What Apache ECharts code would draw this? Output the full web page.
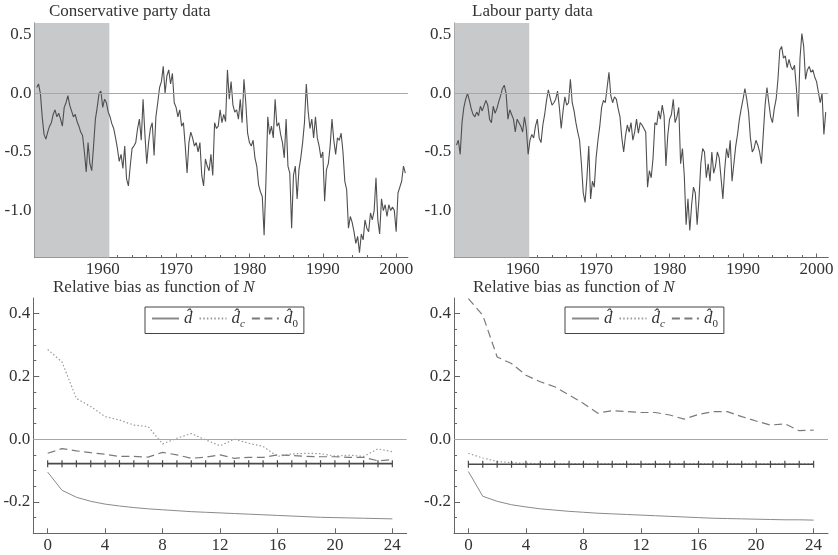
<!DOCTYPE html>
<html><head><meta charset="utf-8">
<script src="https://cdn.jsdelivr.net/npm/echarts@6/dist/echarts.min.js"></script>
<style>html,body{margin:0;padding:0;background:#fff}#c{width:838px;height:555px}</style>
</head><body><div id="c"></div>
<script>
// ---- time index (quarterly readings) ----
const startYear = 1951;
const stepYear = 0.25;

// Conservative party data (quarterly from 1951.00)
const conValues = [
 0.05, 0.08, 0.0, -0.2,
 -0.35, -0.39, -0.33, -0.28,
 -0.25, -0.18, -0.14, -0.2,
 -0.17, -0.22, -0.28, -0.12,
 -0.08, -0.02, -0.1, -0.15,
 -0.2, -0.18, -0.24, -0.28,
 -0.33, -0.36, -0.5, -0.67,
 -0.42, -0.6, -0.66, -0.45,
 -0.22, -0.12, 0.0, 0.02,
 -0.12, -0.05, -0.08, -0.16,
 -0.2, -0.26, -0.3, -0.38,
 -0.47, -0.58, -0.52, -0.64,
 -0.45, -0.73, -0.79, -0.62,
 -0.47, -0.45, -0.42, -0.3,
 -0.22, -0.4, -0.05, -0.35,
 -0.6, -0.42, -0.3, -0.25,
 -0.53, -0.2, -0.08, 0.05,
 0.1, 0.23, 0.0, 0.15,
 0.2, 0.08, 0.17, -0.08,
 -0.12, -0.2, -0.14, -0.28,
 -0.25, -0.45, -0.68, -0.42,
 -0.33, -0.38, -0.45, -0.42,
 -0.5, -0.42, -0.7, -0.79,
 -0.56, -0.62, -0.66, -0.52,
 -0.7, -0.25, -0.3, -0.28,
 -0.14, -0.25, -0.18, -0.24,
 0.2, -0.05, 0.1, -0.1,
 -0.16, -0.14, -0.22, -0.05,
 -0.25, 0.12, -0.08, -0.34,
 -0.42, -0.45, -0.4, -0.55,
 -0.62, -0.78, -0.84, -0.88,
 -1.21, -0.75, -0.2, -0.35,
 -0.28, -0.38, -0.05, -0.28,
 -0.25, -0.35, -0.42, -0.55,
 -0.22, -0.62, -0.68, -1.15,
 -0.7, -0.62, -0.9, -0.65,
 -0.55, -0.42, -0.25, 0.08,
 -0.15, -0.3, -0.22, -0.38,
 -0.2, -0.38, -0.45, -0.55,
 -0.5, -0.92, -0.65, -0.6,
 -0.45, -0.22, -0.4, -0.52,
 -0.38, -0.4, -0.34, -0.5,
 -0.75, -0.82, -1.15, -1.05,
 -1.1, -1.18, -1.28, -1.22,
 -1.36, -1.2, -1.25, -1.08,
 -1.15, -1.18, -1.02, -1.08,
 -1.0, -0.72, -1.08, -1.2,
 -0.9, -1.0, -0.95, -1.05,
 -0.95, -1.0, -0.97, -1.0,
 -1.18, -0.85, -0.8, -0.75,
 -0.62, -0.68
];

// Labour party data (quarterly from 1951.00)
const labValues = [
 -0.44, -0.4, -0.52, -0.25,
 -0.12, -0.05, 0.0, -0.06,
 -0.13, -0.18, -0.2, -0.16,
 -0.19, -0.11, -0.15, -0.14,
 -0.06, -0.1, -0.22, -0.25,
 -0.11, -0.17, -0.13, -0.07,
 -0.02, 0.04, 0.07, 0.0,
 -0.22, -0.14, -0.18, -0.22,
 -0.33, -0.22, -0.25, -0.28,
 -0.33, -0.2, -0.3, -0.52,
 -0.4, -0.35, -0.38, -0.28,
 -0.22, -0.38, -0.42, -0.27,
 -0.18, -0.06, 0.03, -0.04,
 -0.1, -0.08, -0.05, 0.02,
 -0.12, -0.3, -0.15, -0.03,
 -0.1, -0.08, 0.12, -0.08,
 -0.15, -0.25, -0.33, -0.4,
 -0.6, -0.85, -0.93, -0.72,
 -0.45, -0.9, -0.75, -0.8,
 -0.55, -0.4, -0.28, -0.12,
 -0.06, -0.08, 0.05, 0.18,
 -0.02, -0.08, -0.03, -0.05,
 -0.13, -0.2, -0.38, -0.5,
 -0.36, -0.27, -0.33, -0.25,
 -0.4, -0.33, -0.22, -0.34,
 -0.25, -0.27, -0.3, -0.33,
 -0.8, -0.66, -0.72, -0.55,
 -0.25, -0.27, -0.15, -0.22,
 -0.1, -0.19, -0.62, -0.36,
 -0.22, -0.18, -0.05, -0.25,
 -0.2, -0.12, -0.6, -0.47,
 -0.7, -1.12, -0.9, -1.17,
 -0.95, -0.8, -0.85, -1.12,
 -0.9, -0.6, -0.47, -0.5,
 -0.72, -0.6, -0.75, -0.5,
 -0.68, -0.62, -0.5, -0.55,
 -0.72, -0.9, -0.65, -0.47,
 -0.55, -0.4, -0.75, -0.6,
 -0.45, -0.35, -0.22, -0.13,
 -0.05, 0.04, -0.05, -0.16,
 -0.38, -0.5, -0.47, -0.4,
 -0.44, -0.5, -0.6, -0.35,
 -0.1, 0.05, -0.08, -0.2,
 -0.25, -0.13, -0.05, 0.12,
 0.37, 0.4, 0.3, 0.32,
 0.22, 0.29, 0.23, 0.2,
 0.24, 0.05, -0.2, 0.3,
 0.51, 0.4, 0.12, 0.2,
 0.23, 0.18, 0.2, 0.14,
 0.1, 0.1, -0.08, 0.0,
 -0.35, -0.16
];

// tick positions / labels
const yearTicksMinor = [1952,1954,1956,1958,1962,1964,1966,1968,1972,1974,1976,1978,1982,1984,1986,1988,1992,1994,1996,1998];
const yearTicksMajor = [1960,1970,1980,1990,2000];
const levelTicksMinor = [-1.3,-1.2,-1.1,-0.9,-0.8,-0.7,-0.6,-0.4,-0.3,-0.2,-0.1,0.1,0.2,0.3,0.4];
const levelTicksMajor = [-1.0,-0.5,0.0,0.5];
const nTicksMajor = [0,4,8,12,16,20,24];
const biasTicksMinor = [-0.25,-0.15,-0.1,-0.05,0.05,0.1,0.15,0.25,0.3,0.35];
const biasTicksMajor = [-0.2,0.0,0.2,0.4];
const shadeEnd = 1960.9;

// Relative bias as function of N
const biasN = [0,1,2,3,4,5,6,7,8,9,10,11,12,13,14,15,16,17,18,19,20,21,22,23,24];
const conD  = [-0.105,-0.163,-0.185,-0.198,-0.207,-0.213,-0.218,-0.222,-0.225,-0.228,-0.231,-0.233,-0.235,-0.237,-0.239,-0.241,-0.243,-0.245,-0.247,-0.249,-0.250,-0.251,-0.252,-0.253,-0.254];
const conDc = [0.286,0.246,0.130,0.104,0.072,0.061,0.045,0.040,-0.015,0.003,0.018,-0.002,-0.021,0.0,-0.013,-0.023,-0.055,-0.047,-0.045,-0.046,-0.054,-0.051,-0.055,-0.031,-0.040];
const conD0 = [-0.045,-0.030,-0.037,-0.043,-0.048,-0.055,-0.055,-0.057,-0.042,-0.050,-0.061,-0.057,-0.050,-0.061,-0.058,-0.058,-0.050,-0.052,-0.055,-0.056,-0.056,-0.058,-0.058,-0.069,-0.065];
const conRef = [-0.078,-0.078,-0.078,-0.078,-0.078,-0.078,-0.078,-0.078,-0.078,-0.078,-0.078,-0.078,-0.078,-0.078,-0.078,-0.078,-0.078,-0.078,-0.078,-0.078,-0.078,-0.078,-0.078,-0.078,-0.078];
const labD  = [-0.103,-0.182,-0.198,-0.209,-0.216,-0.222,-0.226,-0.230,-0.233,-0.236,-0.238,-0.240,-0.242,-0.244,-0.246,-0.248,-0.250,-0.252,-0.253,-0.254,-0.255,-0.256,-0.257,-0.257,-0.258];
const labDc = [-0.045,-0.060,-0.071,-0.075,-0.077,-0.078,-0.079,-0.079,-0.079,-0.079,-0.079,-0.079,-0.079,-0.079,-0.079,-0.079,-0.079,-0.079,-0.079,-0.079,-0.079,-0.079,-0.079,-0.079,-0.079];
const labD0 = [0.448,0.395,0.262,0.241,0.204,0.183,0.167,0.141,0.114,0.083,0.091,0.088,0.085,0.085,0.077,0.064,0.079,0.088,0.088,0.072,0.058,0.045,0.049,0.027,0.029];
const labRef = [-0.080,-0.080,-0.080,-0.080,-0.080,-0.080,-0.080,-0.080,-0.080,-0.080,-0.080,-0.080,-0.080,-0.080,-0.080,-0.080,-0.080,-0.080,-0.080,-0.080,-0.080,-0.080,-0.080,-0.080,-0.080];

// ---- build ----
const FONT = 'Liberation Serif';
const TXT = '#333';
const AX = '#666';
const NOFILL = 'rgba(0,0,0,0)';

function pairs(xs, ys) { return ys.map((v, i) => [xs[i], v]); }
const yearIdx = conValues.map((_, i) => startYear + i * stepYear);
const yearIdxL = labValues.map((_, i) => startYear + i * stepYear);

function axisBase(grid, min, max) {
  return { type: 'value', gridIndex: grid, min: min, max: max, splitLine: { show: false } };
}
function xAxisPair(grid, min, max, minor, major, majorLen, minorLen) {
  const a = Object.assign(axisBase(grid, min, max), {
    position: 'bottom',
    axisLine: { show: true, onZero: false, lineStyle: { color: AX, width: 1 } },
    axisTick: { show: minor.length > 0, inside: true, length: minorLen, customValues: minor, lineStyle: { color: AX } },
    axisLabel: { show: false }
  });
  const b = Object.assign(axisBase(grid, min, max), {
    position: 'bottom',
    axisLine: { show: false, onZero: false },
    axisTick: { show: true, inside: true, length: majorLen, customValues: major, lineStyle: { color: AX } },
    axisLabel: { show: true, customValues: major, margin: 4, color: TXT, fontFamily: FONT, fontSize: 17,
                 formatter: v => String(Math.round(v)) }
  });
  return [a, b];
}
function yAxisPair(grid, min, max, minor, major, majorLen, minorLen, digits) {
  const a = Object.assign(axisBase(grid, min, max), {
    position: 'left',
    axisLine: { show: true, onZero: false, lineStyle: { color: AX, width: 1 } },
    axisTick: { show: true, inside: true, length: minorLen, customValues: minor, lineStyle: { color: AX } },
    axisLabel: { show: false }
  });
  const b = Object.assign(axisBase(grid, min, max), {
    position: 'left',
    axisLine: { show: false, onZero: false },
    axisTick: { show: true, inside: true, length: majorLen, customValues: major, lineStyle: { color: AX } },
    axisLabel: { show: true, customValues: major, margin: 3, color: TXT, fontFamily: FONT, fontSize: 17,
                 formatter: v => (Math.abs(v) < 1e-9 ? 0 : v).toFixed(digits) }
  });
  return [a, b];
}

const grids = [
  { left: 34.5, top: 23, width: 373.4, height: 234.5 },
  { left: 454.3, top: 23, width: 374, height: 234.5 },
  { left: 33.3, top: 298, width: 373.4, height: 235.3 },
  { left: 454, top: 298, width: 374, height: 235.3 }
];

const xAxes = [].concat(
  xAxisPair(0, 1950.7, 2001.6, yearTicksMinor, yearTicksMajor, 4, 2.5),
  xAxisPair(1, 1950.7, 2001.6, yearTicksMinor, yearTicksMajor, 4, 2.5),
  xAxisPair(2, -1, 25, [], nTicksMajor, 5, 2),
  xAxisPair(3, -1, 25, [], nTicksMajor, 5, 2)
);
const yAxes = [].concat(
  yAxisPair(0, -1.4, 0.6, levelTicksMinor, levelTicksMajor, 6, 3, 1),
  yAxisPair(1, -1.4, 0.6, levelTicksMinor, levelTicksMajor, 6, 3, 1),
  yAxisPair(2, -0.3, 0.45, biasTicksMinor, biasTicksMajor, 6, 3, 1),
  yAxisPair(3, -0.3, 0.45, biasTicksMinor, biasTicksMajor, 6, 3, 1)
);

function zeroLine() {
  return { silent: true, symbol: ['none', 'none'], label: { show: false },
           lineStyle: { color: '#a8a8a8', type: 'solid', width: 1 }, data: [{ yAxis: 0 }] };
}
function shade() {
  return { silent: true, itemStyle: { color: '#c8c9cb', opacity: 1 },
           data: [[{ xAxis: 1950.7 }, { xAxis: shadeEnd }]] };
}
function levelSeries(xi, yi, xs, vals) {
  return { type: 'line', xAxisIndex: xi, yAxisIndex: yi, data: pairs(xs, vals), symbol: 'none',
           lineStyle: { color: '#4f4f4f', width: 1.1 }, z: 3, animation: false,
           markArea: shade(), markLine: zeroLine() };
}
function biasSeries(xi, yi, d, dc, d0, ref) {
  return [
    { name: 'd', type: 'line', xAxisIndex: xi, yAxisIndex: yi, data: pairs(biasN, d), symbol: 'none',
      lineStyle: { color: '#8a8a8a', width: 1, type: 'solid' }, itemStyle: { color: NOFILL },
      markLine: zeroLine(), animation: false },
    { name: 'dc', type: 'line', xAxisIndex: xi, yAxisIndex: yi, data: pairs(biasN, dc), symbol: 'none',
      lineStyle: { color: '#9a9a9a', width: 1.2, type: [1.5, 2.2] }, itemStyle: { color: NOFILL }, animation: false },
    { name: 'd0', type: 'line', xAxisIndex: xi, yAxisIndex: yi, data: pairs(biasN, d0), symbol: 'none',
      lineStyle: { color: '#7a7a7a', width: 1.2, type: [8, 4.5] }, itemStyle: { color: NOFILL }, animation: false },
    { name: 'ref', type: 'line', xAxisIndex: xi, yAxisIndex: yi, data: pairs(biasN, ref),
      symbol: 'rect', symbolSize: [1.2, 7], showSymbol: true,
      lineStyle: { color: '#4a4a4a', width: 1.6 }, itemStyle: { color: '#4a4a4a' }, animation: false }
  ];
}

const legendRich = {
  it: { fontFamily: FONT, fontStyle: 'italic', fontSize: 17, color: TXT },
  subi: { fontFamily: FONT, fontStyle: 'italic', fontSize: 11, color: TXT, padding: [11, 0, 0, 0] },
  sub: { fontFamily: FONT, fontSize: 11, color: TXT, padding: [11, 0, 0, 0] }
};
function legendFmt(name) {
  if (name === 'd') return '{it|d\u0302}';
  if (name === 'dc') return '{it|d\u0302}{subi|c}';
  return '{it|d\u0302}{sub|0}';
}
function legend(left) {
  return { left: left, top: 307, orient: 'horizontal', data: ['d', 'dc', 'd0'],
           itemWidth: 27, itemHeight: 12, itemGap: 6, padding: [3, 6, 4, 6],
           borderColor: '#444', borderWidth: 1, backgroundColor: '#fff',
           itemStyle: { color: NOFILL, borderWidth: 0, opacity: 0 },
           formatter: legendFmt, selectedMode: false,
           textStyle: { fontFamily: FONT, fontSize: 17, color: TXT, rich: legendRich } };
}

const titleStyle = { fontFamily: FONT, fontSize: 17, fontWeight: 'normal', color: TXT,
  rich: { n: { fontFamily: FONT, fontSize: 17, fontStyle: 'italic', color: TXT } } };

const option = {
  backgroundColor: '#fff',
  animation: false,
  title: [
    { text: 'Conservative party data', left: 49, top: 3, padding: 0, textStyle: titleStyle },
    { text: 'Labour party data', left: 472, top: 3, padding: 0, textStyle: titleStyle },
    { text: 'Relative bias as function of {n|N}', left: 53, top: 279, padding: 0, textStyle: titleStyle },
    { text: 'Relative bias as function of {n|N}', left: 473, top: 279, padding: 0, textStyle: titleStyle }
  ],
  legend: [legend(145), legend(565)],
  grid: grids,
  xAxis: xAxes,
  yAxis: yAxes,
  series: [].concat(
    [levelSeries(0, 0, yearIdx, conValues), levelSeries(2, 2, yearIdxL, labValues)],
    biasSeries(4, 4, conD, conDc, conD0, conRef),
    biasSeries(6, 6, labD, labDc, labD0, labRef)
  )
};

const chart = echarts.init(document.getElementById('c'), null, { renderer: 'canvas' });
chart.setOption(option);
</script></body></html>
